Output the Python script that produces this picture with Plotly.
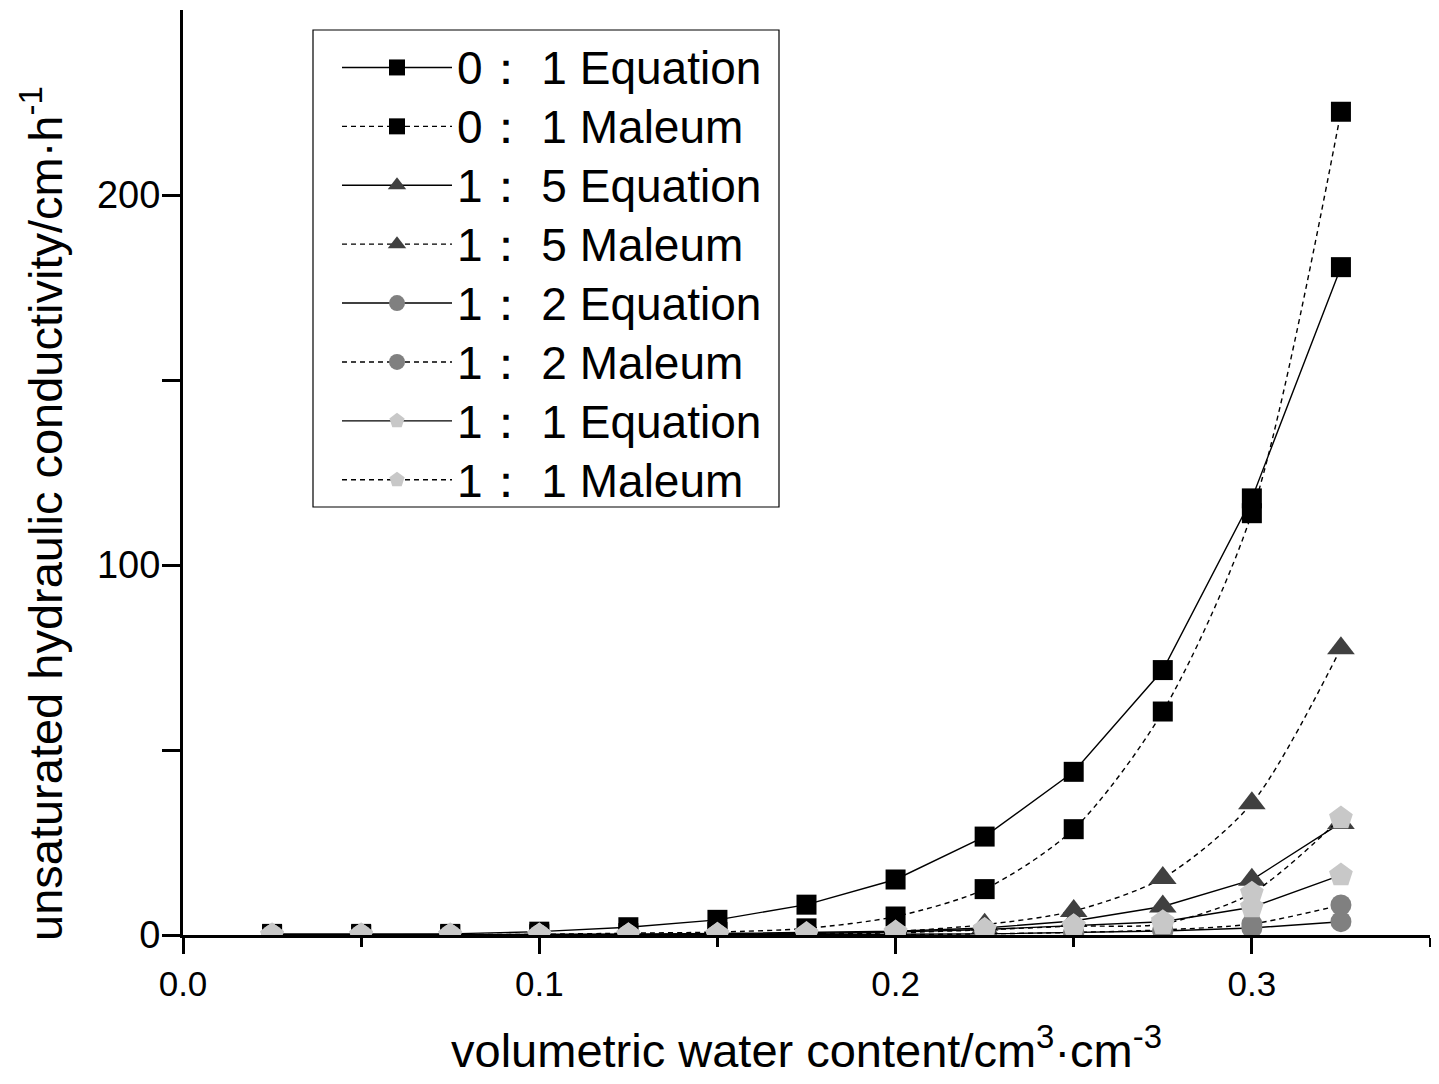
import plotly.graph_objects as go

# volumetric water content (cm3/cm3)
theta = [0.025, 0.05, 0.075, 0.1, 0.125, 0.15, 0.175, 0.2, 0.225, 0.25, 0.275, 0.3, 0.325]

# unsaturated hydraulic conductivity (cm/h)
k_01_eq = [0.3, 0.3, 0.3, 0.9, 2.1, 4.1, 8.2, 15.0, 26.6, 44.1, 71.6, 118.0, 180.5]
k_01_mal = [0.0, 0.0, 0.1, 0.2, 0.5, 0.8, 1.8, 5.0, 12.4, 28.6, 60.4, 114.0, 222.5]
k_15_eq = [0.0, 0.0, 0.0, 0.1, 0.2, 0.4, 0.6, 1.0, 1.9, 3.8, 7.7, 14.9, 30.3]
k_15_mal = [0.0, 0.0, 0.0, 0.0, 0.1, 0.2, 0.4, 1.0, 2.8, 6.5, 15.4, 35.6, 77.5]
k_12_eq = [0.0, 0.0, 0.0, 0.0, 0.0, 0.0, 0.1, 0.2, 0.3, 0.6, 1.1, 1.9, 3.6]
k_12_mal = [0.0, 0.0, 0.0, 0.0, 0.0, 0.0, 0.0, 0.1, 0.3, 0.7, 1.4, 3.0, 8.1]
k_11_eq = [0.0, 0.0, 0.0, 0.0, 0.1, 0.2, 0.4, 0.8, 1.5, 2.5, 3.6, 7.5, 16.2]
k_11_mal = [0.0, 0.0, 0.0, 0.0, 0.0, 0.1, 0.2, 0.6, 1.4, 2.4, 3.0, 11.3, 31.6]

names = ["0： 1 Equation", "0： 1 Maleum", "1： 5 Equation", "1： 5 Maleum",
         "1： 2 Equation", "1： 2 Maleum", "1： 1 Equation", "1： 1 Maleum"]
series = [k_01_eq, k_01_mal, k_15_eq, k_15_mal, k_12_eq, k_12_mal, k_11_eq, k_11_mal]
symbols = ["square", "square", "triangle-up", "triangle-up", "circle", "circle", "pentagon", "pentagon"]
colors = ["#000000", "#000000", "#404040", "#404040", "#808080", "#808080", "#c8c8c8", "#c8c8c8"]
sizes = [20, 20, 24, 24, 21, 21, 25, 25]

fig = go.Figure()
for i, (nm, ys) in enumerate(zip(names, series)):
    maleum = (i % 2 == 1)
    fig.add_trace(go.Scatter(
        x=theta, y=ys, name='<span style="font-size:46px">' + nm + '</span>',
        mode="lines+markers",
        line=dict(color="#000000", width=1.4,
                  dash="5px,4px" if maleum else "solid",
                  shape="spline" if maleum else "linear", smoothing=0.8),
        marker=dict(symbol=symbols[i], color=colors[i], size=sizes[i],
                    line=dict(width=0)),
    ))

font_family = "Liberation Sans, Arial, sans-serif"

# the page body adds an 8px offset; positions below are screen pixels of the reference
OFF = 8
W, H = 1439 - OFF, 1084 - OFF
PL, PR, PT, PB = 183 - OFF, 1430 - OFF, 10 - OFF, 935 - OFF

def px_x(p):
    return (p - OFF - PL) / (PR - PL)

def px_y(p):
    return (PB - (p - OFF)) / (PB - PT)

fig.update_layout(
    width=W, height=H,
    margin=dict(l=PL, r=W - PR, t=PT, b=H - PB, pad=0),
    paper_bgcolor="white", plot_bgcolor="white",
    font=dict(family=font_family, color="black", size=36),
    showlegend=True,
    legend=dict(
        x=px_x(337), y=px_y(33), xanchor="left", yanchor="top",
        borderwidth=0, bgcolor="rgba(0,0,0,0)",
        font=dict(family=font_family, size=43, color="black"),
        itemwidth=110, tracegroupgap=0,
    ),
    shapes=[dict(type="rect", xref="paper", yref="paper",
                 x0=px_x(313), x1=px_x(779), y0=px_y(507), y1=px_y(30),
                 line=dict(color="black", width=1.2), fillcolor="rgba(0,0,0,0)",
                 layer="below")],
    annotations=[dict(
        text="unsaturated hydraulic conductivity/cm·h<sup>-1</sup>",
        xref="paper", yref="paper", x=px_x(42), y=px_y(514),
        xanchor="center", yanchor="middle", textangle=-90, showarrow=False,
        font=dict(size=47, family=font_family, color="black"),
    )],
    xaxis=dict(
        range=[0, 0.35], tickvals=[0.0, 0.1, 0.2, 0.3],
        ticktext=["0.0", "0.1", "0.2", "0.3"],
        showgrid=False, zeroline=False, automargin=False,
        showline=True, linecolor="black", linewidth=3,
        ticks="outside", ticklen=16, tickwidth=3, tickcolor="black",
        minor=dict(tickvals=[0.05, 0.15, 0.25, 0.35], ticklen=9, tickwidth=3,
                   tickcolor="black", ticks="outside", showgrid=False),
        tickfont=dict(size=35, family=font_family),
        title=dict(text="volumetric water content/cm<sup>3</sup>·cm<sup>-3</sup>",
                   font=dict(size=47, family=font_family), standoff=33),
    ),
    yaxis=dict(
        range=[0, 250], tickvals=[0, 100, 200],
        showgrid=False, zeroline=False, automargin=False,
        showline=True, linecolor="black", linewidth=3,
        ticks="outside", ticklen=18, tickwidth=3, tickcolor="black",
        ticklabelstandoff=-6,
        minor=dict(tickvals=[50, 150], ticklen=18, tickwidth=3,
                   tickcolor="black", ticks="outside", showgrid=False),
        tickfont=dict(size=38, family=font_family),
    ),
)

fig.write_html("out.html")
